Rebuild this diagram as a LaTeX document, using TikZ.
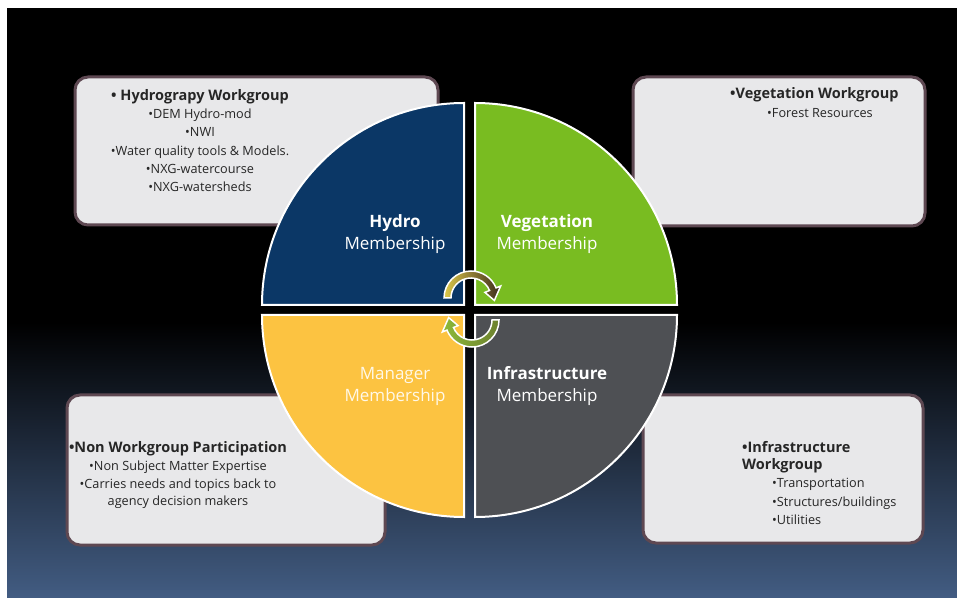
\documentclass[tikz,border=0pt]{standalone}
\usepackage{fontspec}
\setmainfont{Open Sans}
\usetikzlibrary{positioning}

\definecolor{hydroblue}{HTML}{0B3766}
\definecolor{veggreen}{HTML}{79BC21}
\definecolor{mgryellow}{HTML}{FCC341}
\definecolor{infragray}{HTML}{4E5054}
\definecolor{boxfill}{HTML}{E8E8EA}
\definecolor{boxedge}{HTML}{5E4852}
\definecolor{slate}{HTML}{425C82}
\definecolor{arrowlight}{HTML}{DCC84A}
\definecolor{arrowmid}{HTML}{8DBA3A}
\definecolor{arrowdark}{HTML}{3B2B1C}

\newcommand\wgtitle{\fontsize{14.5}{18.3}\selectfont\bfseries}

\tikzset{
  infobox/.style={draw=boxedge, line width=3pt, fill=boxfill, rounded corners=13pt, inner sep=0pt},
  quarter/.style={draw=white, line width=2pt},
  qlabel/.style={text=white, align=center, inner sep=0pt, font=\fontsize{17}{22}\selectfont},
  boxtext/.style={inner sep=0pt, text=black!85, font=\fontsize{12.7}{18.3}\selectfont},
  cyclearrow/.style={draw=white, line width=1.5pt}
}

\begin{document}
\begin{tikzpicture}[x=1pt,y=1pt]
  \useasboundingbox (0,0) rectangle (957,597);

  % Background
  \fill[black] (7,0) rectangle (957,589);
  \shade[top color=black, bottom color=slate] (7,0) rectangle (957,275);

  % Workgroup boxes
  \node[infobox, minimum width=363pt, minimum height=148pt] (hydrobox) at (256.5,446) {};
  \node[infobox, minimum width=292pt, minimum height=149pt] (vegbox) at (779,445.5) {};
  \node[infobox, minimum width=318pt, minimum height=150pt] (mgrbox) at (226,127) {};
  \node[infobox, minimum width=280pt, minimum height=148pt] (infrabox) at (783,128) {};

  % Box texts
  \node[boxtext, align=center, anchor=north] (hydrotxt) at (200,508)
    {{\wgtitle• Hydrograpy Workgroup}\\ •DEM Hydro-mod\\ •NWI\\
     •Water quality tools \& Models.\\ •NXG-watercourse\\ •NXG-watersheds};
  \node[boxtext, align=left, anchor=north west] (vegtxt) at (730,510)
    {{\wgtitle•Vegetation Workgroup}\\[1pt] \hspace*{37pt}•Forest Resources};
  \node[boxtext, align=center, anchor=north] (mgrtxt) at (178,156)
    {{\wgtitle•Non Workgroup Participation}\\ •Non Subject Matter Expertise\\
     •Carries needs and topics back to\\[-2pt] agency decision makers};
  \node[boxtext, align=left, anchor=north west] (infratxt) at (742,156)
    {{\wgtitle•Infrastructure}\\[-1pt] {\wgtitle Workgroup}\\
     \hspace*{30pt}•Transportation\\ \hspace*{30pt}•Structures/buildings\\
     \hspace*{30pt}•Utilities};

  % Membership circle
  \draw[quarter, fill=hydroblue] (464,292) -- ++(180:202) arc[start angle=180, end angle=90, radius=202pt] -- cycle;
  \draw[quarter, fill=veggreen] (475,292) -- ++(90:202) arc[start angle=90, end angle=0, radius=202pt] -- cycle;
  \draw[quarter, fill=mgryellow] (464,282) -- ++(270:202) arc[start angle=270, end angle=180, radius=202pt] -- cycle;
  \draw[quarter, fill=infragray] (475,282) -- ++(0:202) arc[start angle=0, end angle=-90, radius=202pt] -- cycle;

  \node[qlabel] (hydrolbl) at (395,363) {\textbf{Hydro}\\ Membership};
  \node[qlabel] (veglbl) at (547,363) {\textbf{Vegetation}\\ Membership};
  \node[qlabel, text=white!88!mgryellow] (mgrlbl) at (395,210.5) {Manager\\ Membership};
  \node[qlabel] (infralbl) at (547,210.5) {\textbf{Infrastructure}\\ Membership};

  % Cycle arrows
  \begin{scope}[shift={(471,299)}]
    \shadedraw[cyclearrow, left color=arrowlight, middle color=arrowmid, right color=arrowdark]
      (180:27) arc[start angle=180, end angle=22, radius=27pt] -- (22:32) -- (-6:23.5)
      -- (22:15) -- (22:20) arc[start angle=22, end angle=180, radius=20pt] -- cycle;
  \end{scope}
  \begin{scope}[shift={(472,277)}]
    \shadedraw[cyclearrow, left color=arrowmid, middle color=arrowdark, right color=arrowmid!60!arrowdark]
      (0:27) arc[start angle=0, end angle=-158, radius=27pt] -- (-158:32) -- (-186:23.5)
      -- (-158:15) -- (-158:20) arc[start angle=-158, end angle=0, radius=20pt] -- cycle;
  \end{scope}
\end{tikzpicture}
\end{document}
